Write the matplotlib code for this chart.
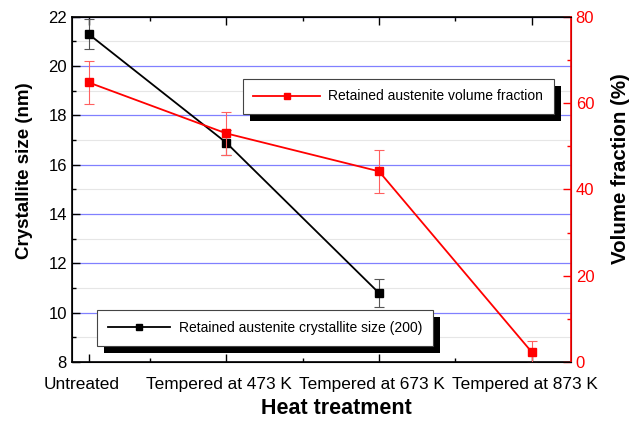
import matplotlib
matplotlib.use("Agg")
import matplotlib.pyplot as plt
from matplotlib.ticker import MultipleLocator, FixedLocator
from matplotlib.lines import Line2D
from matplotlib.transforms import ScaledTranslation
import matplotlib.patheffects as pe

plt.rcParams['font.family'] = ['Liberation Sans', 'DejaVu Sans']

# Heat treatment temperature (K); untreated = room temperature
temps = [293, 473, 673, 873]
tick_labels = ["Untreated", "Tempered at 473 K", "Tempered at 673 K", "Tempered at 873 K"]

size_temps = [293, 473, 673]
crystallite_size = [21.3, 16.9, 10.8]
crystallite_err = [0.6, 0.5, 0.55]

volume_fraction = [64.8, 53.0, 44.2, 2.3]
volume_err = [5.0, 5.0, 5.0, 2.6]

fig = plt.figure(figsize=(6.3, 4.21), dpi=100)
ax = fig.add_axes([0.114, 0.140, 0.792, 0.820])
ax2 = ax.twinx()

ax.set_xlim(271, 924)
ax.set_ylim(8, 22)
ax2.set_ylim(0, 80)

# grid lines
ax.yaxis.set_major_locator(MultipleLocator(2))
ax.yaxis.set_minor_locator(MultipleLocator(1))
ax.grid(axis='y', which='major', color='#8080ff', lw=0.9)
ax.grid(axis='y', which='minor', color='#e6e6e6', lw=0.8)
ax.set_axisbelow(True)

ax.errorbar(size_temps, crystallite_size, yerr=crystallite_err, color='black',
            lw=1.3, marker='s', ms=5.5, capsize=3.5, elinewidth=0.8, ecolor='#555555',
            capthick=0.8, zorder=3)
ax2.errorbar(temps, volume_fraction, yerr=volume_err, color='red',
             lw=1.3, marker='s', ms=5.5, capsize=3.5, elinewidth=0.8, ecolor='#ff6060',
             capthick=0.8, zorder=3)

ax.xaxis.set_major_locator(FixedLocator(temps))
ax.xaxis.set_minor_locator(FixedLocator([373, 573, 773]))
ax.set_xticklabels(tick_labels)
ax2.yaxis.set_major_locator(MultipleLocator(20))
ax2.yaxis.set_minor_locator(MultipleLocator(10))

ax.tick_params(axis='both', which='both', direction='in', top=True, labelsize=12)
ax.tick_params(axis='x', labelsize=12.4, pad=11)
ax.tick_params(axis='both', which='major', length=6, width=1)
ax.tick_params(axis='both', which='minor', length=3, width=1)
ax2.tick_params(axis='y', which='both', direction='in', colors='red', labelsize=12)
ax2.tick_params(axis='y', which='major', length=6, width=1)
ax2.tick_params(axis='y', which='minor', length=3, width=1)
ax2.spines['right'].set_color('red')
ax2.spines['right'].set_linewidth(1.2)
for s in ['left', 'top', 'bottom']:
    ax.spines[s].set_linewidth(1.2)

# nudge the category labels slightly left of their ticks
shift = ScaledTranslation(-0.07, 0, fig.dpi_scale_trans)
for tick in ax.xaxis.get_major_ticks():
    tick.label1.set_transform(tick.label1.get_transform() + shift)

ax.set_ylabel("Crystallite size (nm)", fontsize=13.5, fontweight='bold')
ax.yaxis.set_label_coords(-0.078, 0.555)
ax2.set_ylabel("Volume fraction (%)", fontsize=14.8, fontweight='bold')
ax2.yaxis.set_label_coords(1.08, 0.56)
ax.set_xlabel("Heat treatment", fontsize=15.5, fontweight='bold')
ax.xaxis.set_label_coords(0.531, -0.104)

shadow = [pe.SimplePatchShadow(offset=(5, -5), shadow_rgbFace='black', alpha=1.0), pe.Normal()]

h1 = Line2D([], [], color='black', lw=1.3, marker='s', ms=4)
h2 = Line2D([], [], color='red', lw=1.3, marker='s', ms=4)

leg1 = ax.legend([h1], ["Retained austenite crystallite size (200)"], loc='lower left',
                 bbox_to_anchor=(0.05, 0.047), borderaxespad=0,
                 fancybox=False, framealpha=1, edgecolor='#444444', fontsize=10,
                 handlelength=4.5, borderpad=0.8, handletextpad=0.6)
leg1.get_frame().set_path_effects(shadow)
leg1.get_frame().set_linewidth(0.8)

leg2 = ax2.legend([h2], ["Retained austenite volume fraction"], loc='upper left',
                  bbox_to_anchor=(0.343, 0.82), borderaxespad=0,
                  fancybox=False, framealpha=1, edgecolor='#444444', fontsize=10,
                  handlelength=4.8, borderpad=0.75, handletextpad=0.6)
leg2.get_frame().set_path_effects(shadow)
leg2.get_frame().set_linewidth(0.8)

fig.savefig("out.png", dpi=100)
